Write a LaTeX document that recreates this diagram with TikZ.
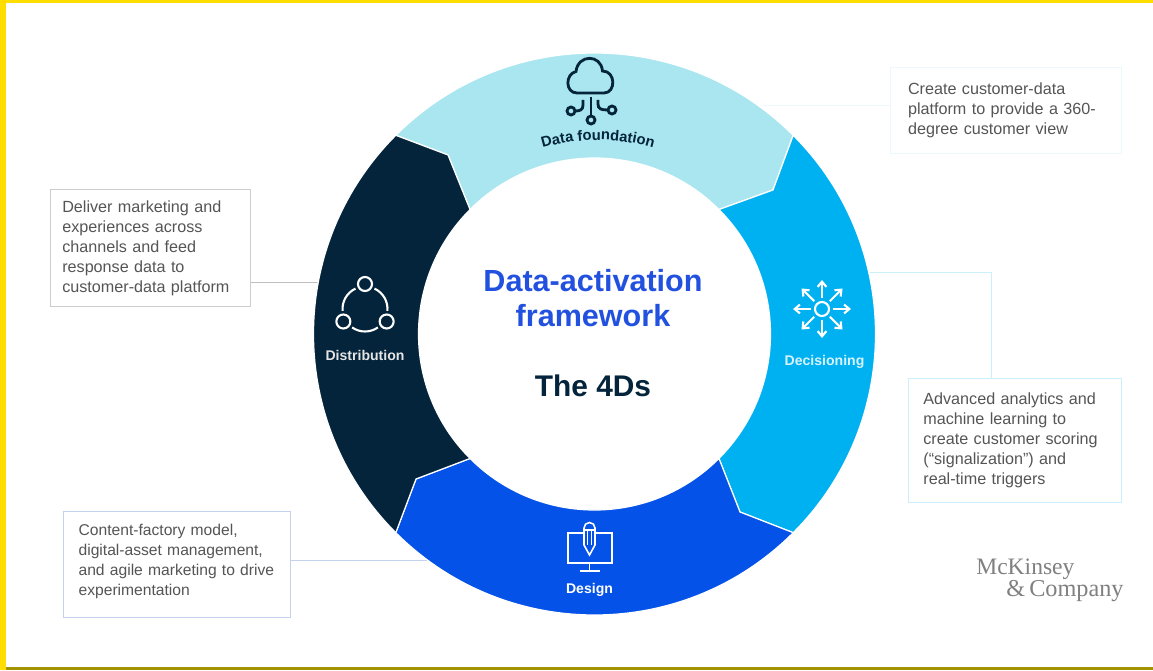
\documentclass[tikz,border=0pt]{standalone}
\usepackage{fontspec}
\setmainfont{Liberation Sans}
\newfontfamily\logofont{Liberation Serif}
\usetikzlibrary{arrows.meta,decorations.text}
\definecolor{foundationcol}{HTML}{AAE6F0}
\definecolor{decisioncol}{HTML}{00B1F1}
\definecolor{designcol}{HTML}{0552E8}
\definecolor{distribcol}{HTML}{03243A}
\definecolor{titlecol}{HTML}{2251E0}
\definecolor{bodycol}{HTML}{555555}
\definecolor{framecol}{HTML}{FFDD00}
\definecolor{shadecol}{HTML}{A39300}
\definecolor{designline}{HTML}{C5D2EE}
\tikzset{
  infobox/.style={draw, rectangle, align=left, text=bodycol, line width=0.55pt, font=\fontsize{9.2}{11.35}\selectfont},
  leader/.style={line width=0.55pt},
  segment/.style={draw=white, line width=0.7pt},
  seglabel/.style={font=\fontsize{8}{9}\selectfont\bfseries, text=white},
  icon/.style={draw=white, line width=1.2pt},
  title/.style={font=\fontsize{17.4}{18}\selectfont\bfseries}
}

\begin{document}
\begin{tikzpicture}[x=0.02cm, y=0.02cm]
    \useasboundingbox (0,0) rectangle (1153,670);
    % frame
    \fill[white] (0,0) rectangle (1153,670);
    \fill[framecol] (0,0) rectangle (6,670);
    \fill[framecol] (0,667) rectangle (1153,670);
    \fill[shadecol] (6,0) rectangle (1153,3);

    \coordinate (ring) at (594.5,336);
    \coordinate (kneetl) at (448,515);
    \coordinate (kneetr) at (773,480);
    \coordinate (kneebr) at (740,158);
    \coordinate (kneebl) at (416,191);

    % boxes and leaders
    \node[infobox, draw=black!20, inner xsep=6.8pt, text width=100.4pt, minimum height=66.9pt](boxdistrib) at (150.5,422)
      {Deliver marketing and\\experiences across\\channels and feed\\response data to\\customer-data platform};
    \node[infobox, draw=cyan!8, inner xsep=10pt, text width=111.5pt, minimum height=49.3pt](boxfoundation) at (1006,559.5)
      {Create customer-data\\platform to provide a 360-\\degree customer view};
    \node[infobox, draw=cyan!20, inner xsep=8.5pt, text width=104.3pt, minimum height=70.9pt](boxdecision) at (1015,229.5)
      {Advanced analytics and\\machine learning to\\create customer scoring\\(``signalization'') and\\real-time triggers};
    \node[infobox, draw=designline, font=\fontsize{8.9}{11.35}\selectfont, inner xsep=8.65pt, text width=112pt, minimum height=60.7pt](boxdesign) at (177,105.5)
      {Content-factory model,\\digital-asset management,\\and agile marketing to drive\\experimentation\\[-5.8pt] \mbox{}};

    \coordinate (tipdistrib) at (325,388);
    \coordinate (tipfoundation) at (762,565);
    \coordinate (tipdecision) at (860,398);
    \coordinate (tipdesign) at (435,110);
    \coordinate (elbow) at (991,292);
    \draw[leader, black!25] (tipdistrib) -- (tipdistrib -| boxdistrib.east);
    \draw[leader, cyan!8] (tipfoundation) -- (tipfoundation -| boxfoundation.west);
    \draw[leader, cyan!20] (tipdecision) -| (elbow);
    \draw[leader, designline] (tipdesign) -- (tipdesign -| boxdesign.east);

    % ring
    \begin{scope}[shift={(ring)}]
      \draw[segment, fill=foundationcol] (135:281) arc[start angle=135, end angle=45, radius=281] -- (kneetr) -- (45:176)
        arc[start angle=45, end angle=135, radius=176] -- (kneetl) -- cycle;
      \draw[segment, fill=decisioncol] (45:281) arc[start angle=45, end angle=-45, radius=281] -- (kneebr) -- (-45:176)
        arc[start angle=-45, end angle=45, radius=176] -- (kneetr) -- cycle;
      \draw[segment, fill=designcol] (-45:281) arc[start angle=-45, end angle=-135, radius=281] -- (kneebl) -- (-135:176)
        arc[start angle=-135, end angle=-45, radius=176] -- (kneebr) -- cycle;
      \draw[segment, fill=distribcol] (225:281) arc[start angle=225, end angle=135, radius=281] -- (kneetl) -- (135:176)
        arc[start angle=135, end angle=225, radius=176] -- (kneebl) -- cycle;
    \end{scope}

    % centre
    \node[title, text=titlecol](titleone) at (593,389) {Data-activation};
    \node[title, text=titlecol](titletwo) at (593,354) {framework};
    \node[title, font=\fontsize{17}{18}\selectfont\bfseries, text=distribcol](titlethree) at (593,284) {The 4Ds};

    % cloud
    \begin{scope}[shift={(591,580)}, every path/.style={draw=distribcol, line width=1.6pt}]
      \draw (-14,-3) .. controls (-26,-3) and (-26,16) .. (-15,18.5) .. controls (-13,36) and (10,36) .. (11.5,19)
        .. controls (25,19) and (25,-3) .. (13,-3) -- cycle;
      \draw (0,-7) -- (0,-26);
      \draw (0,-30) circle[radius=4];
      \draw (-8,-10) -- (-8,-15) .. controls (-8,-20) and (-11,-21) .. (-16,-21);
      \draw (-20,-21) circle[radius=4];
      \draw (7,-10) -- (7,-14) .. controls (7,-19) and (10,-20) .. (17,-20);
      \draw (21,-20) circle[radius=4];
    \end{scope}
    \path[decorate, decoration={text along path, text align=center,
      text={|\fontsize{8.4}{9}\selectfont\bfseries\color{distribcol}|Data foundation}}]
      (598,336) ++(115:194) arc[start angle=115, end angle=65, radius=194];

    % decisioning icon
    \begin{scope}[shift={(822,361)}]
      \draw[icon] (0,0) circle[radius=7];
      \foreach \ang in {0,45,...,315}
        \draw[icon, -{Straight Barb[length=3pt,width=5pt]}] (\ang:11) -- (\ang:29);
    \end{scope}
    \node[seglabel, text=white!85!cyan](labeldecision) at (824.5,308.5) {Decisioning};

    % distribution icon
    \begin{scope}[shift={(365,361)}]
      \foreach \ang in {90,210,330}{
        \draw[icon] (\ang:25) circle[radius=7];
        \draw[icon] (\ang+25:22.5) arc[start angle=\ang+25, end angle=\ang+95, radius=22.5];
      }
    \end{scope}
    \node[seglabel, text=white!90!black](labeldistrib) at (365,314.5) {Distribution};

    % design icon
    \begin{scope}[shift={(589.5,127)}, every path/.style={draw=white, line width=0.9pt}]
      \draw (-6,10) -- (-21.5,10) -- (-21.5,-20) -- (22.5,-20) -- (22.5,10) -- (6,10);
      \draw (-5.5,-2) -- (-5.5,15) arc[start angle=180, end angle=0, radius=5.5] -- (5.5,-2) -- (0,-12) -- cycle;
      \draw (-5.5,13) -- (5.5,13);
      \draw (-1.8,13) -- (-1.8,-2);
      \draw (1.8,13) -- (1.8,-2);
      \draw (0,-20) -- (0,-28);
      \draw (-10,-28) -- (10,-28);
    \end{scope}
    \node[seglabel](labeldesign) at (589.5,80.5) {Design};

    % logo
    \node[anchor=base west, inner sep=0, text=black!50, font=\logofont\fontsize{13.4}{15}\selectfont](logoone) at (976,96) {McKinsey};
    \node[anchor=base west, inner sep=0, text=black!50, font=\logofont\fontsize{13.8}{15}\selectfont](logotwo) at (1006,74) {\&\,Company};
\end{tikzpicture}
\end{document}
